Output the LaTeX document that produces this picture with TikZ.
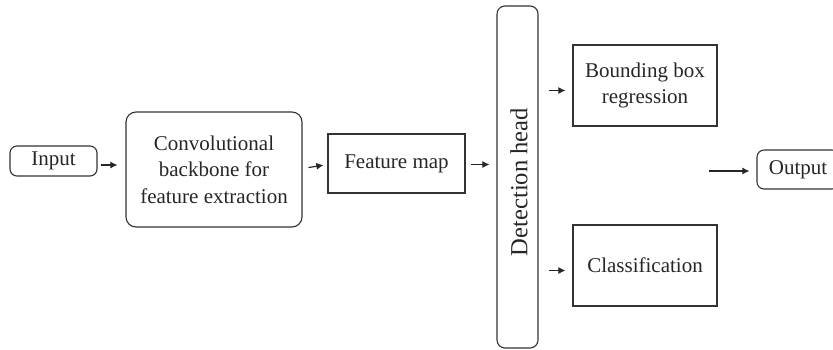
\documentclass[tikz,border=0pt]{standalone}
\usepackage{fontspec}
\setmainfont{Liberation Serif}
\usetikzlibrary{arrows.meta}

\begin{document}
\begin{tikzpicture}[x=0.5pt,y=-0.5pt,font=\fontsize{10.5}{13.2}\selectfont]
        \tikzstyle{stagenode}=[
            rectangle,
            draw=black!80,
            line width=0.55pt,
            text=black!85,
            inner sep=0pt,
            align=center
        ]
        \tikzstyle{roundnode}=[
            stagenode,
            rounded corners=3.5pt
        ]
        \tikzstyle{flowarrow}=[
            -{Latex[length=3.6pt,width=3.6pt]},
            line width=0.6pt,
            draw=black!85,
            shorten <=2pt,
            shorten >=3.5pt
        ]

        \useasboundingbox (0,0) rectangle (833,349);
        \clip (0,0) rectangle (833,349);

        \node[roundnode, minimum width=43.5pt, minimum height=15pt] (input) at (53.5,161){Input};
        \node[roundnode, rounded corners=5pt, minimum width=88pt, minimum height=57.5pt] (conv) at (214,169.5){Convolutional\\backbone for\\feature extraction};
        \node[stagenode, minimum width=68.5pt, minimum height=29.5pt] (fmap) at (396.5,163.5){Feature map};
        \node[roundnode, rotate=90, rounded corners=4pt, minimum width=171pt, minimum height=20.5pt] (dhead) at (517.5,177){};
        \node[rotate=90, text=black!85, font=\fontsize{12.3}{14}\selectfont] (dlabel) at (519,182){Detection head};
        \node[stagenode, minimum width=72pt, minimum height=40.5pt] (bbox) at (645,85.5){Bounding box\\regression};
        \node[stagenode, minimum width=72pt, minimum height=40.5pt] (cls) at (645,265.5){Classification};
        \node[roundnode, minimum width=41pt, minimum height=19.5pt] (output) at (798,169.5){Output};
        \coordinate (merge) at (709,171);

        \draw[flowarrow, shorten <=1.5pt, shorten >=4pt] ([yshift=-2pt]input.east) -- ([yshift=-2pt]conv.west |- input.east);
        \draw[flowarrow, shorten <=3pt, shorten >=2pt] ([yshift=-2.5pt]conv.east |- fmap.east) -- ([yshift=-0.5pt]fmap.west);
        \draw[flowarrow, shorten <=2.5pt, shorten >=3.5pt] ([yshift=-0.5pt]fmap.east) -- ([yshift=-0.5pt]dhead.north |- fmap.east);
        \draw[flowarrow, shorten <=5pt, shorten >=3.5pt] ([yshift=-2.5pt]dhead.south |- bbox.west) -- ([yshift=-2.5pt]bbox.west);
        \draw[flowarrow, shorten <=5pt, shorten >=3.5pt] ([yshift=-2.5pt]dhead.south |- cls.west) -- ([yshift=-2.5pt]cls.west);
        \draw[flowarrow, shorten <=0pt, shorten >=3.5pt] (merge) -- (merge -| output.west);

\end{tikzpicture}
\end{document}
